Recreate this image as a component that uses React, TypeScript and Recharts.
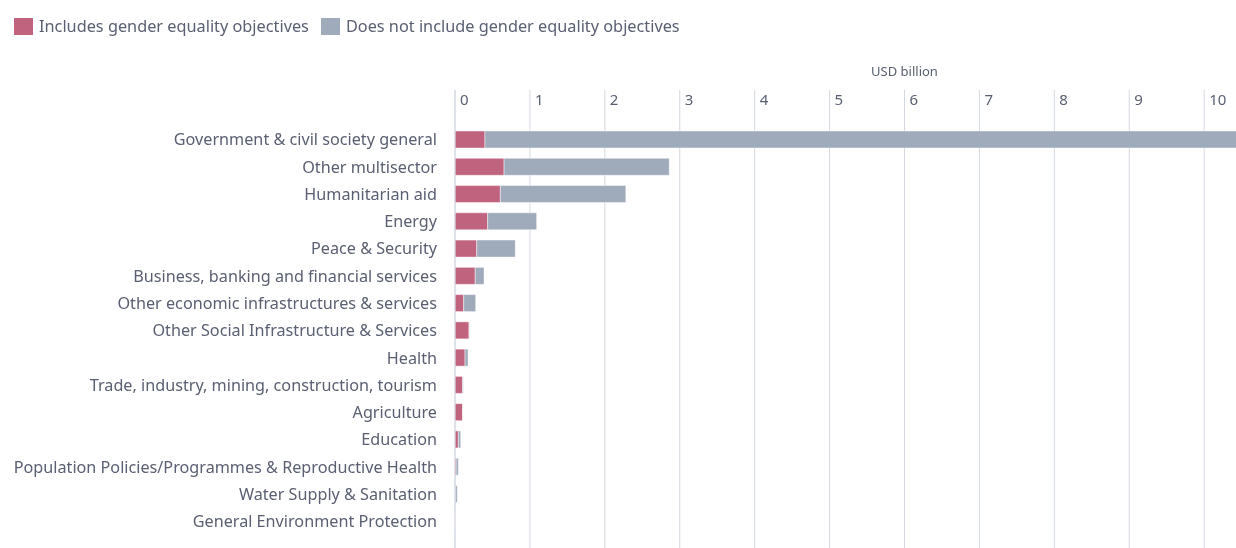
import React from 'react';
import { BarChart, Bar, XAxis, YAxis, CartesianGrid } from 'recharts';

const categories = [
  'Government & civil society general',
  'Other multisector',
  'Humanitarian aid',
  'Energy',
  'Peace & Security',
  'Business, banking and financial services',
  'Other economic infrastructures & services',
  'Other Social Infrastructure & Services',
  'Health',
  'Trade, industry, mining, construction, tourism',
  'Agriculture',
  'Education',
  'Population Policies/Programmes & Reproductive Health',
  'Water Supply & Sanitation',
  'General Environment Protection',
];
const includesGender = [0.4, 0.655, 0.605, 0.436, 0.29, 0.27, 0.116, 0.187, 0.134, 0.1, 0.1, 0.045, 0.015, 0.005, 0.002];
const notIncludesGender = [10.9, 2.205, 1.675, 0.654, 0.515, 0.117, 0.16, 0.005, 0.04, 0.01, 0.003, 0.031, 0.03, 0.025, 0.001];
const xTicks = [0, 1, 2, 3, 4, 5, 6, 7, 8, 9, 10];
const seriesNames = ['Includes gender equality objectives', 'Does not include gender equality objectives'];

const PINK = '#c0637f';
const GREY = '#9faabb';
const TEXT = '#5a6072';
const GRID = '#d3d8e0';
const FONT = '"Noto Sans", sans-serif';

const data = categories.map((c, i) => ({ name: c, inc: includesGender[i], notInc: notIncludesGender[i] }));

const XTick = (props: any) => {
  const { x, payload } = props;
  return (
    <text x={x + 5} y={53} fill={TEXT} fontSize={15} fontFamily={FONT} textAnchor="start">
      {payload.value}
    </text>
  );
};

export default function App() {
  return (
    <div style={{ position: 'fixed', left: 8, top: 8, width: 1228, height: 540, overflow: 'hidden', fontFamily: FONT }}>
      <style>{'html,body{overflow:hidden}'}</style>
      <div style={{ height: 44, display: 'flex', alignItems: 'center', paddingLeft: 6, boxSizing: 'border-box', paddingBottom: 8 }}>
        {seriesNames.map((n, i) => (
          <div key={n} style={{ display: 'flex', alignItems: 'center', marginRight: 12 }}>
            <span style={{ display: 'inline-block', width: 19, height: 17, background: i === 0 ? PINK : GREY, marginRight: 6 }} />
            <span style={{ fontSize: 16.3, color: TEXT }}>{n}</span>
          </div>
        ))}
      </div>
      <BarChart
        width={1346}
        height={510}
        data={data}
        layout="vertical"
        margin={{ top: 0, right: 0, bottom: 0, left: 0 }}
        barSize={17}
      >
        <CartesianGrid horizontal={false} vertical={true} stroke={GRID} />
        <XAxis
          type="number"
          orientation="top"
          domain={[0, 12]}
          ticks={xTicks}
          height={38}
          axisLine={false}
          tickLine={false}
          tick={<XTick />}
          interval={0}
          label={{ value: 'USD billion', position: 'center', fill: TEXT, fontSize: 13, fontFamily: FONT }}
        />
        <YAxis
          type="category"
          dataKey="name"
          width={447}
          tickLine={false}
          tickSize={0}
          tickMargin={18}
          axisLine={{ stroke: GRID }}
          interval={0}
          padding={{ top: 36, bottom: 27 }}
          tick={{ fill: TEXT, fontSize: 16.2, fontFamily: FONT }}
        />
        <Bar dataKey="inc" stackId="a" fill={PINK} stroke="#ffffff" strokeOpacity={0.45} isAnimationActive={false} />
        <Bar dataKey="notInc" stackId="a" fill={GREY} stroke="#ffffff" strokeOpacity={0.45} isAnimationActive={false} />
      </BarChart>
    </div>
  );
}
